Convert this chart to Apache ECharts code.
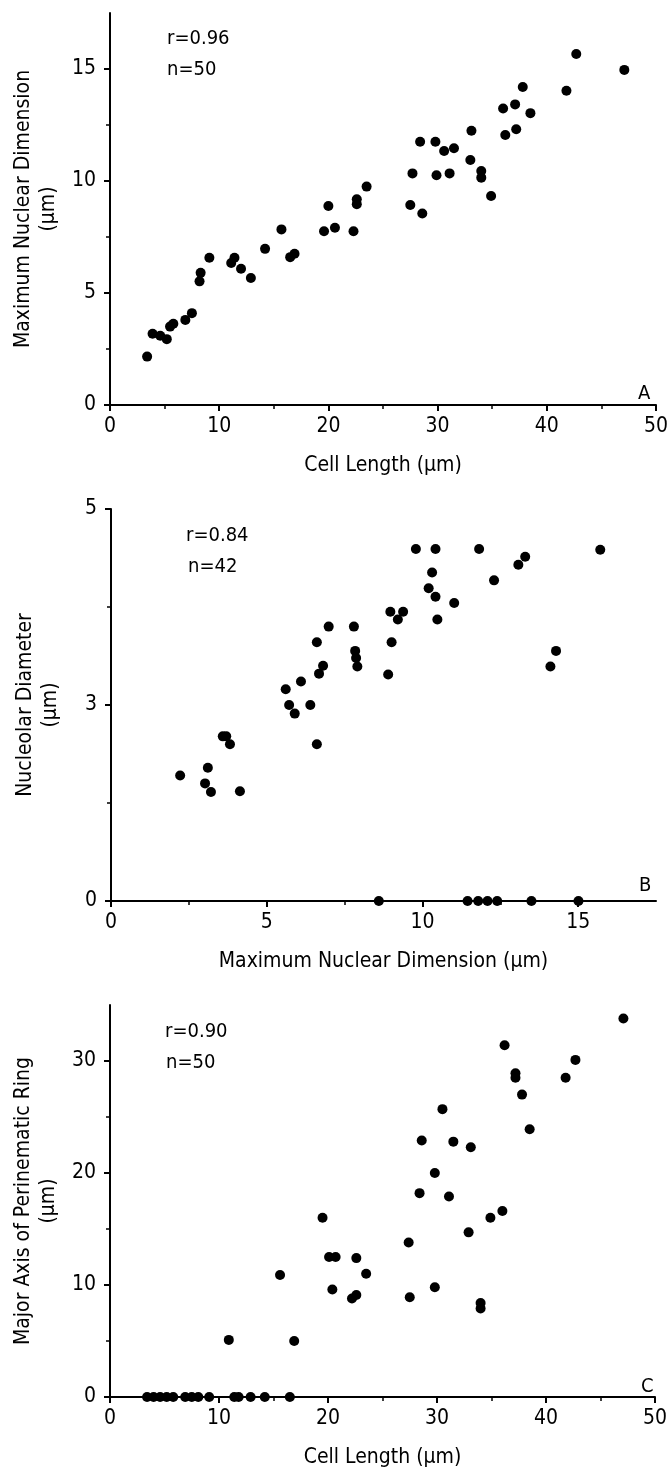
<!DOCTYPE html>
<html lang="en">
<head>
<meta charset="UTF-8">
<title>Cell length vs nuclear dimensions</title>
<script src="https://cdn.jsdelivr.net/npm/echarts@6/dist/echarts.min.js"></script>
<style>
    html, body { margin: 0; padding: 0; background: #fff; }
    #chart { width: 671px; height: 1471px; }
</style>
</head>
<body>
<div id="chart"></div>
<script>
// A: cell length vs maximum nuclear dimension
var cellLenA = [3.4, 3.9, 4.6, 5.2, 5.5, 5.8, 6.9, 7.5, 8.2, 8.3, 9.1, 11.1, 11.4, 12.0, 12.9, 14.2, 15.7, 16.5, 16.9, 19.6,
    20.0, 20.6, 22.3, 22.6, 22.6, 23.5, 27.5, 27.7, 28.4, 28.6, 29.8, 29.9, 30.6, 31.1, 31.5, 33.0, 33.1, 34.0, 34.0, 34.9,
    36.0, 36.2, 37.1, 37.2, 37.8, 38.5, 41.8, 42.7, 47.1];
var nucDimA = [2.16, 3.18, 3.09, 2.94, 3.5, 3.63, 3.8, 4.1, 5.52, 5.9, 6.57, 6.34, 6.57, 6.08, 5.67, 6.97, 7.84, 6.6, 6.75, 7.76,
    8.88, 7.91, 7.76, 9.18, 8.96, 9.75, 8.93, 10.34, 11.75, 8.55, 11.75, 10.26, 11.34, 10.34, 11.46, 10.94, 12.24, 10.45, 10.15, 9.33,
    13.24, 12.05, 13.42, 12.31, 14.2, 13.03, 14.03, 15.67, 14.96];

// B: maximum nuclear dimension vs nucleolar diameter
var nucDimB = [9.79, 10.42, 11.82, 15.71, 13.3, 13.08, 10.31, 12.3, 10.2, 10.42, 11.02, 8.97, 9.38, 9.21, 10.48, 6.99, 7.8, 6.61,
    9.01, 7.84, 7.87, 7.91, 6.81, 6.68, 8.9, 14.29, 14.11, 6.1, 5.61, 5.72, 5.9, 6.4, 6.61, 3.59, 3.7, 3.82, 2.22, 3.11, 3.02,
    3.21, 4.14, 8.6, 11.45, 11.79, 12.09, 12.4, 13.5, 15.01];
var nucleolB = [4.49, 4.49, 4.49, 4.48, 4.39, 4.29, 4.19, 4.09, 3.99, 3.88, 3.8, 3.69, 3.69, 3.59, 3.59, 3.5, 3.5, 3.3,
    3.3, 3.19, 3.1, 2.99, 3.0, 2.9, 2.89, 3.19, 2.99, 2.8, 2.7, 2.5, 2.39, 2.5, 2.0, 2.1, 2.1, 2.0, 1.6, 1.7, 1.5,
    1.39, 1.4, 0, 0, 0, 0, 0, 0, 0];

// C: cell length vs major axis of perinematic ring
var cellLenC = [47.1, 36.2, 42.7, 37.2, 37.2, 41.8, 37.8, 30.5, 38.5, 28.6, 31.5, 33.1, 29.8, 28.4, 31.1, 36.0, 34.9, 19.5,
    32.9, 27.4, 20.1, 20.7, 22.6, 15.6, 23.5, 20.4, 29.8, 22.2, 22.6, 27.5, 34.0, 34.0, 10.9, 16.9,
    3.4, 4.0, 4.6, 5.2, 5.8, 6.9, 7.5, 8.1, 9.1, 11.4, 11.8, 12.9, 14.2, 16.5];
var ringC = [33.8, 31.4, 30.1, 28.9, 28.5, 28.5, 27.0, 25.7, 23.9, 22.9, 22.8, 22.3, 20.0, 18.2, 17.9, 16.6, 16.0, 16.0,
    14.7, 13.8, 12.5, 12.5, 12.4, 10.9, 11.0, 9.6, 9.8, 8.8, 9.1, 8.9, 8.4, 7.9, 5.1, 5.0,
    0, 0, 0, 0, 0, 0, 0, 0, 0, 0, 0, 0, 0, 0];

// ticks
var cellTicks = [0, 10, 20, 30, 40, 50];
var cellMinor = [5, 15, 25, 35, 45];
var nucTicksA = [0, 5, 10, 15];
var nucMinorA = [2.5, 7.5, 12.5];
var nucTicksB = [0, 5, 10, 15];
var nucMinorB = [2.5, 7.5, 12.5];
var nucleolTicks = [0, 2.5, 5];
var nucleolLabels = ['0', '3', '5'];
var nucleolMinor = [1.25, 3.75];
var ringTicks = [0, 10, 20, 30];
var ringMinor = [5, 15, 25];

var FONT = "'DejaVu Sans Condensed', 'Liberation Sans', sans-serif";
var BLACK = '#000';

function zip(xs, ys) {
    var out = [];
    for (var i = 0; i < xs.length; i++) out.push([xs[i], ys[i]]);
    return out;
}

// main axis with line, major ticks and labels
function mainAxis(grid, pos, max, ticks, name, gap, fmt) {
    return {
        type: 'value', gridIndex: grid, position: pos, min: 0, max: max,
        axisLine: {show: true, onZero: false, lineStyle: {color: BLACK, width: 2}},
        axisTick: {show: true, customValues: ticks, length: 6, lineStyle: {color: BLACK, width: 2}},
        axisLabel: {customValues: ticks, color: BLACK, fontSize: 21, fontFamily: FONT,
            margin: pos === 'left' ? 14 : 11, formatter: fmt},
        splitLine: {show: false},
        name: name, nameLocation: 'middle', nameGap: gap,
        nameRotate: pos === 'left' ? 90 : 0,
        nameTextStyle: {color: BLACK, fontSize: 21, fontFamily: FONT, lineHeight: 25}
    };
}

// second axis, only short minor ticks
function minorAxis(grid, pos, max, ticks) {
    return {
        type: 'value', gridIndex: grid, position: pos, offset: 0, min: 0, max: max,
        axisLine: {show: false},
        axisTick: {show: true, customValues: ticks, length: 4, lineStyle: {color: BLACK, width: 1.5}},
        axisLabel: {show: false},
        splitLine: {show: false}
    };
}

function scatter(i, data) {
    return {
        type: 'scatter', xAxisIndex: 2 * i, yAxisIndex: 2 * i, data: data,
        symbol: 'circle', symbolSize: 10, itemStyle: {color: BLACK, opacity: 1}, silent: true
    };
}

function note(x, y, s, size) {
    return {type: 'text', left: x, top: y, style: {text: s, fill: BLACK, fontSize: size || 20, fontFamily: FONT}};
}

var chart = echarts.init(document.getElementById('chart'), null, {renderer: 'canvas'});

var option = {
    backgroundColor: '#fff',
    animation: false,
    grid: [
        {left: 110, right: 15, top: 13, height: 392},
        {left: 111, right: 15, top: 509, height: 392},
        {left: 110, right: 16, top: 1005, height: 394}
    ],
    xAxis: [
        mainAxis(0, 'bottom', 50, cellTicks, 'Cell Length (μm)', 48),
        minorAxis(0, 'bottom', 50, cellMinor),
        mainAxis(1, 'bottom', 17.5, nucTicksB, 'Maximum Nuclear Dimension (μm)', 48),
        minorAxis(1, 'bottom', 17.5, nucMinorB),
        mainAxis(2, 'bottom', 50, cellTicks, 'Cell Length (μm)', 48),
        minorAxis(2, 'bottom', 50, cellMinor)
    ],
    yAxis: [
        mainAxis(0, 'left', 17.5, nucTicksA, 'Maximum Nuclear Dimension\n(μm)', 44),
        minorAxis(0, 'left', 17.5, nucMinorA),
        mainAxis(1, 'left', 5, nucleolTicks, 'Nucleolar Diameter\n(μm)', 48, function (v) {
            return nucleolLabels[nucleolTicks.indexOf(v)];
        }),
        minorAxis(1, 'left', 5, nucleolMinor),
        mainAxis(2, 'left', 35, ringTicks, 'Major Axis of Perinematic Ring\n(μm)', 44),
        minorAxis(2, 'left', 35, ringMinor)
    ],
    graphic: [
        note(167, 29, 'r=0.96'), note(167, 60, 'n=50'), note(638, 384, 'A'),
        note(186, 526, 'r=0.84'), note(188, 557, 'n=42'), note(639, 876, 'B'),
        note(165, 1022, 'r=0.90'), note(166, 1053, 'n=50'), note(641, 1377, 'C')
    ],
    series: [
        scatter(0, zip(cellLenA, nucDimA)),
        scatter(1, zip(nucDimB, nucleolB)),
        scatter(2, zip(cellLenC, ringC))
    ]
};

chart.setOption(option);
</script>
</body>
</html>
